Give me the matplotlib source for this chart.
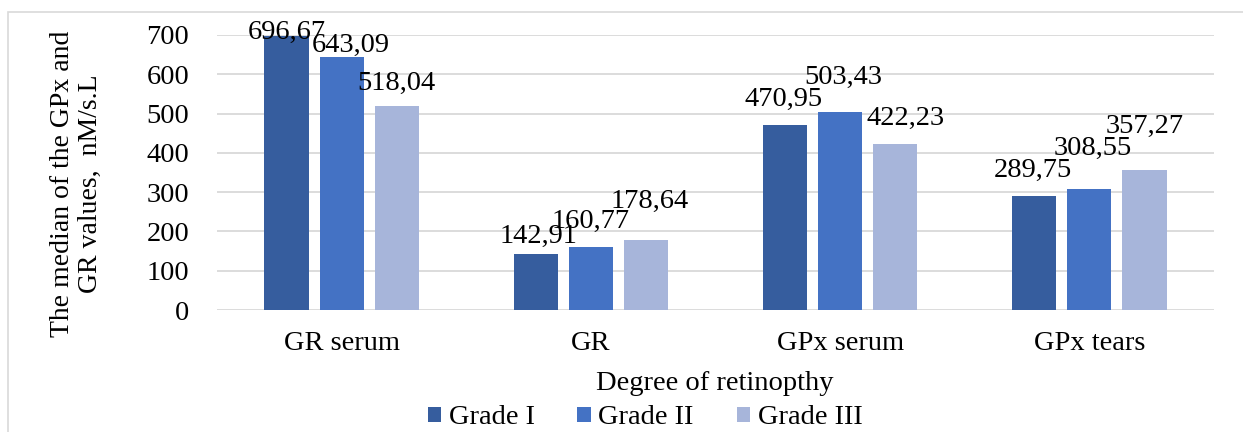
import matplotlib
matplotlib.use("Agg")
import matplotlib.pyplot as plt
from matplotlib.patches import Rectangle
import numpy as np

categories = ["GR serum", "GR", "GPx serum", "GPx tears"]
series_names = ["Grade I", "Grade II", "Grade III"]
grade1 = [696.67, 142.91, 470.95, 289.75]
grade2 = [643.09, 160.77, 503.43, 308.55]
grade3 = [518.04, 178.64, 422.23, 357.27]
yticks = [0, 100, 200, 300, 400, 500, 600, 700]
ylabel = "The median of the GPx and\nGR values,  nM/s.L"
xlabel = "Degree of retinopthy"

colors = ["#365D9E", "#4472C4", "#A7B5DA"]
plt.rcParams["font.family"] = ["Liberation Serif", "DejaVu Serif"]
FS = 20.5

W, H = 1243, 432
fig = plt.figure(figsize=(W / 100, H / 100), dpi=100)

# outer chart border
fig.patches.append(Rectangle((8 / W, -0.1), 1.2, 1 - 11.5 / H + 0.1,
                             transform=fig.transFigure, fill=False,
                             edgecolor="#d9d9d9", lw=1.2, zorder=0))

ax = fig.add_axes([217 / W, 1 - 310 / H, (1214 - 217) / W, (310 - 35) / H])
ax.set_xlim(-0.5, 3.5)
ax.set_ylim(0, 700)
for s in ax.spines.values():
    s.set_visible(False)
ax.set_yticks(yticks)
ax.set_yticklabels([str(v) for v in yticks], fontsize=FS)
ax.yaxis.grid(True, color="#d9d9d9", lw=1.3)
ax.set_axisbelow(True)
ax.tick_params(axis="y", length=0, pad=20)
ax.set_xticks(range(len(categories)))
ax.set_xticklabels(categories, fontsize=FS)
ax.tick_params(axis="x", length=0, pad=15)

x = np.arange(len(categories))
step = 0.221
width = 0.177
all_series = [grade1, grade2, grade3]
bars = []
for k, vals in enumerate(all_series):
    b = ax.bar(x + (k - 1) * step, vals, width=width, color=colors[k],
               label=series_names[k], zorder=2)
    bars.append(b)

# label offsets (px): (dx, dy of label centre above bar top), per series per category
offsets = [
    [(0, 4), (3, 17.5), (-1, 26), (-1, 26)],
    [(9, 12), (0, 25.5), (3, 35), (3, 40)],
    [(0, 23), (4, 38), (10, 26), (0, 43)],
]
for k, vals in enumerate(all_series):
    for i, v in enumerate(vals):
        dx, dy = offsets[k][i]
        ax.annotate(f"{v:.2f}".replace(".", ","), xy=(x[i] + (k - 1) * step, v),
                    xytext=(dx, dy), textcoords="offset pixels",
                    ha="center", va="center", fontsize=FS, zorder=3)

fig.text(76 / W, 1 - 184 / H, ylabel, rotation=90, ha="center", va="center",
         fontsize=20, multialignment="center", linespacing=1.15)
fig.text(715 / W, 1 - 384 / H, xlabel, ha="center", va="center", fontsize=FS)

fig.legend(handles=bars, labels=series_names, loc="center",
           bbox_to_anchor=(645 / W, 1 - 418 / H), ncol=3, frameon=False,
           fontsize=FS, handlelength=0.46, handleheight=0.46, handletextpad=0.28,
           columnspacing=1.5, borderaxespad=0, borderpad=0)

fig.savefig("out.png", dpi=100)
